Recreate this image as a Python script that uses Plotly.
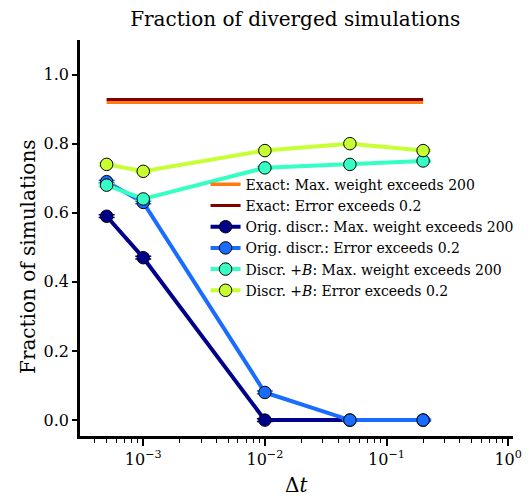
import plotly.graph_objects as go

dt = [5e-4, 1e-3, 1e-2, 5e-2, 2e-1]
exact_maxw = [0.92, 0.92, 0.92, 0.92, 0.92]
exact_err = [0.928, 0.928, 0.928, 0.928, 0.928]
orig_maxw = [0.59, 0.47, 0.0, 0.0, 0.0]
orig_err = [0.69, 0.63, 0.08, 0.0, 0.0]
plusB_maxw = [0.68, 0.64, 0.73, 0.74, 0.75]
plusB_err = [0.74, 0.72, 0.78, 0.80, 0.78]
err_small = [0.004, 0.004, 0.004, 0.002, 0.002]

FONT = "DejaVu Serif"

fig = go.Figure()
fig.add_trace(go.Scatter(x=dt, y=exact_maxw, mode="lines", line=dict(color="#ff7a10", width=3.5),
                         name="Exact: Max. weight exceeds 200"))
fig.add_trace(go.Scatter(x=dt, y=exact_err, mode="lines", line=dict(color="#800000", width=3),
                         name="Exact: Error exceeds 0.2"))

series = [
    (orig_maxw, "#00008a", "Orig. discr.: Max. weight exceeds 200"),
    (orig_err, "#1a6cff", "Orig. discr.: Error exceeds 0.2"),
    (plusB_maxw, "#35ffc4", "Discr. +<i>B</i>: Max. weight exceeds 200"),
    (plusB_err, "#c8ff33", "Discr. +<i>B</i>: Error exceeds 0.2"),
]
for ys, col, nm in series:
    fig.add_trace(go.Scatter(
        x=dt, y=ys, mode="lines+markers", name=nm,
        line=dict(color=col, width=4),
        marker=dict(color=col, size=12.5, line=dict(color="black", width=1)),
        error_y=dict(type="data", array=err_small, color=col, width=8, thickness=1.5),
    ))

major = [1e-3, 1e-2, 1e-1, 1e0]
major_text = ["10<sup>−3</sup>", "10<sup>−2</sup>", "10<sup>−1</sup>", "10<sup>0</sup>"]
minor_vals = [m * 10.0 ** e for e in range(-4, 0) for m in range(2, 10)]

fig.update_layout(
    width=532, height=499,
    margin=dict(l=80, r=19, t=40, b=63, autoexpand=False),
    paper_bgcolor="white", plot_bgcolor="white",
    font=dict(family=FONT, size=16, color="black"),
    title=dict(text="Fraction of diverged simulations", x=0.555, xanchor="center",
               y=1 - 19 / 499, yanchor="middle", font=dict(size=20)),
    showlegend=True,
    legend=dict(x=0.29, y=0.675, xanchor="left", yanchor="top", bgcolor="rgba(0,0,0,0)",
                font=dict(size=14), tracegroupgap=0, itemwidth=30),
)
fig.update_xaxes(
    type="log", range=[-3.52, 0.04], automargin=False,
    tickmode="array", tickvals=major, ticktext=major_text,
    ticks="outside", ticklen=7, tickwidth=1.5, tickcolor="black",
    minor=dict(tickmode="array", tickvals=minor_vals, ticks="outside", ticklen=4, tickwidth=1, tickcolor="black"),
    showline=True, linecolor="black", linewidth=2.5, showgrid=False, zeroline=False,
    tickfont=dict(size=16),
)
fig.update_yaxes(
    range=[-0.046, 1.10], automargin=False,
    tickvals=[0, 0.2, 0.4, 0.6, 0.8, 1.0], ticktext=["0.0", "0.2", "0.4", "0.6", "0.8", "1.0"],
    ticks="outside", ticklen=5, tickwidth=1.5, tickcolor="black",
    showline=True, linecolor="black", linewidth=2.5, showgrid=False, zeroline=False,
    tickfont=dict(size=16),
)
fig.add_annotation(text="Δ<i>t</i>", xref="paper", yref="paper", x=0.5, y=-(485 - 436) / 396,
                   xanchor="center", yanchor="middle", showarrow=False, font=dict(size=20))
fig.add_annotation(text="Fraction of simulations", xref="paper", yref="paper",
                   x=-(80 - 28) / 433, y=(436 - 257) / 396, textangle=-90,
                   xanchor="center", yanchor="middle", showarrow=False, font=dict(size=20))

fig.write_html("out.html")
